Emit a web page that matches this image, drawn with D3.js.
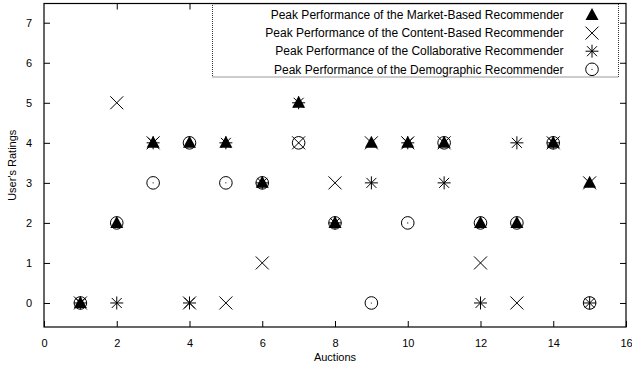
<!DOCTYPE html>
<html>
<head>
<meta charset="utf-8">
<script src="https://cdn.jsdelivr.net/npm/d3@7/dist/d3.min.js"></script>
<style>
  html, body { margin: 0; padding: 0; background: #fff; }
  svg { display: block; font-family: "Liberation Sans", Arial, Helvetica, sans-serif; }
</style>
</head>
<body>
<svg id="chart" width="632" height="366"></svg>
<script>
// Auction index and peak rating of each recommender
const auctions = [1, 2, 3, 4, 5, 6, 7, 8, 9, 10, 11, 12, 13, 14, 15];
const marketBased   = [0, 2, 4, 4, 4, 3, 5, 2, 4, 4, 4, 2, 2, 4, 3];
const contentBased  = [0, 5, 4, 0, 0, 1, 4, 3, 4, 4, 4, 1, 0, 4, 3];
const collaborative = [0, 0, 4, 0, 4, 3, 5, 2, 3, 4, 3, 0, 4, 4, 0];
const demographic   = [0, 2, 3, 4, 3, 3, 4, 2, 0, 2, 4, 2, 2, 4, 0];

const xTicks = [0, 2, 4, 6, 8, 10, 12, 14, 16];
const yTicks = [0, 1, 2, 3, 4, 5, 6, 7];

const seriesNames = [
  "Peak Performance of the Market-Based Recommender",
  "Peak Performance of the Content-Based Recommender",
  "Peak Performance of the Collaborative Recommender",
  "Peak Performance of the Demographic Recommender"
];
const seriesValues = [marketBased, contentBased, collaborative, demographic];
const seriesSymbols = ["triangle", "cross", "star", "dotcircle"];

const svg = d3.select("#chart");
const plotLeft = 44, plotRight = 626, plotTop = 3.5, plotBottom = 327;

const x = d3.scaleLinear().domain([0, 16]).range([plotLeft, plotRight]);
const y = d3.scaleLinear().domain([-0.6, 7.48]).range([plotBottom, plotTop]);

// Draw one marker of the given kind centred at (cx, cy)
function marker(g, kind, cx, cy) {
  const s = g.append("g").attr("transform", `translate(${cx},${cy})`);
  if (kind === "triangle") {
    s.append("path").attr("d", "M0,-7 L6.5,5 L-6.5,5 Z").attr("fill", "#000");
  } else if (kind === "cross") {
    s.append("path").attr("d", "M-6.5,-6.5 L6.5,6.5 M-6.5,6.5 L6.5,-6.5")
      .attr("stroke", "#000").attr("stroke-width", 1).attr("fill", "none");
  } else if (kind === "star") {
    s.append("path").attr("d", "M-6.5,0 L6.5,0 M0,-6.5 L0,6.5 M-5,-5 L5,5 M-5,5 L5,-5")
      .attr("stroke", "#000").attr("stroke-width", 1).attr("fill", "none");
  } else if (kind === "dotcircle") {
    s.append("circle").attr("r", 6.3).attr("fill", "none")
      .attr("stroke", "#000").attr("stroke-width", 1);
    s.append("circle").attr("r", 0.6).attr("fill", "#000");
  }
}

// Plot frame
svg.append("rect")
  .attr("x", plotLeft).attr("y", plotTop)
  .attr("width", plotRight - plotLeft).attr("height", plotBottom - plotTop)
  .attr("fill", "none").attr("stroke", "#000").attr("stroke-width", 1.2);

// Axes with ticks pointing into the plot, mirrored on top and right
const tickLen = 6;
const bottomAxis = d3.axisBottom(x).tickValues(xTicks).tickSize(-tickLen).tickPadding(12).tickFormat(d3.format("d"));
const topAxis = d3.axisTop(x).tickValues(xTicks.slice(1, -1)).tickSize(-tickLen).tickFormat("");
const leftAxis = d3.axisLeft(y).tickValues(yTicks).tickSize(-tickLen).tickPadding(12).tickFormat(d3.format("d"));
const rightAxis = d3.axisRight(y).tickValues(yTicks).tickSize(-tickLen).tickFormat("");

function styleAxis(g) {
  g.select(".domain").remove();
  g.selectAll("line").attr("stroke", "#000").attr("stroke-width", 1);
  g.selectAll("text").attr("fill", "#000").attr("font-size", 11)
    .attr("font-family", "'Liberation Sans', Arial, sans-serif");
}

svg.append("g").attr("transform", `translate(0,${plotBottom})`).call(bottomAxis).call(styleAxis);
svg.append("g").attr("transform", `translate(0,${plotTop})`).call(topAxis).call(styleAxis);
svg.append("g").attr("transform", `translate(${plotLeft},0)`).call(leftAxis).call(styleAxis);
svg.append("g").attr("transform", `translate(${plotRight},0)`).call(rightAxis).call(styleAxis);

// Axis titles
svg.append("text")
  .attr("x", (plotLeft + plotRight) / 2).attr("y", 361)
  .attr("text-anchor", "middle").attr("font-size", 11)
  .text("Auctions");
svg.append("text")
  .attr("transform", `translate(16,${(plotTop + plotBottom) / 2}) rotate(-90)`)
  .attr("text-anchor", "middle").attr("font-size", 11)
  .text("User's Ratings");

// Data points
const pts = svg.append("g");
seriesValues.forEach((vals, si) => {
  vals.forEach((v, i) => marker(pts, seriesSymbols[si], x(auctions[i]), y(v)));
});

// Legend
const legend = svg.append("g");
legend.append("rect")
  .attr("x", 212.5).attr("y", plotTop + 0.5)
  .attr("width", 406).attr("height", 73)
  .attr("fill", "#fff").attr("stroke", "#000").attr("stroke-width", 0.8)
  .attr("stroke-dasharray", "1,1");
seriesNames.forEach((name, i) => {
  const ly = 15 + i * 18.1;
  legend.append("text")
    .attr("x", 563.5).attr("y", ly).attr("dy", "0.35em")
    .attr("text-anchor", "end").attr("font-size", 12)
    .text(name);
  marker(legend, seriesSymbols[i], 592, ly);
});
</script>
</body>
</html>
